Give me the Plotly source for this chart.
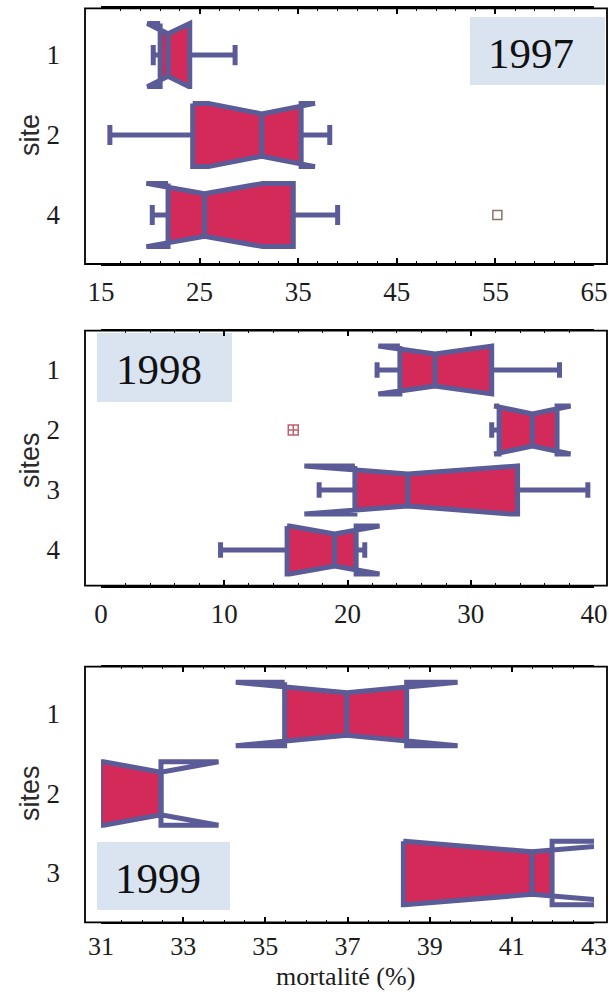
import plotly.graph_objects as go

# ---------------- mortality (%) per site, three campaigns ----------------
sites_1997 = ["1", "2", "4"]
q1_1997 = [21.0, 24.3, 21.8]
med_1997 = [21.8, 31.3, 25.5]
q3_1997 = [24.0, 35.3, 34.5]
low_1997 = [20.3, 15.9, 20.2]
high_1997 = [28.6, 38.2, 39.0]
notch_1997 = [2.1, 5.4, 5.9]
outlier_site_1997 = ["4"]
outlier_val_1997 = [55.2]

sites_1998 = ["1", "2", "3", "4"]
q1_1998 = [24.25, 32.3, 20.6, 15.1]
med_1998 = [27.1, 35.0, 24.9, 18.95]
q3_1998 = [31.7, 37.0, 33.8, 20.7]
low_1998 = [22.4, 31.7, 17.7, 9.7]
high_1998 = [37.2, 37.0, 39.5, 21.4]
notch_1998 = [4.6, 3.1, 8.4, 3.65]
outlier_site_1998 = ["2"]
outlier_val_1998 = [15.6]

sites_1999 = ["1", "2", "3"]
q1_1999 = [35.47, 30.98, 38.36]
med_1999 = [36.98, 32.46, 41.49]
q3_1999 = [38.44, 32.46, 41.98]
low_1999 = [35.47, 30.98, 38.36]
high_1999 = [38.44, 32.46, 41.98]
notch_1999 = [2.7, 1.4, 3.1]

years = ["1997", "1998", "1999"]
ylabels = ["site", "sites", "sites"]
xlabel = "mortalité (%)"

# ---------------- styling ----------------
W, H = 609, 992
ML, MR = 101, 15
PLOT_W = W - ML - MR
RED = "#d42a5a"
BLUE = "#5b5b97"
LABEL_BG = "#dae4f0"
SERIF = "Liberation Serif"
SANS = "Liberation Sans"
NOTCH_W = 0.33      # notch depth at the median, as a fraction of the half box
CAP_W = 0.32        # whisker cap length relative to the box thickness
LINE_W = 5


def px(x):
    return (x - ML) / PLOT_W


def py(y):
    return 1 - y / H


def half_height(v, m, ns, half):
    r = min(1.0, abs(v - m) / ns) if ns > 0 else 1.0
    return half * ((1 - NOTCH_W) + NOTCH_W * r)


def body_polygon(q1, m, q3, ns, pos, w):
    """Filled part of a notched box, limited to the quartile span."""
    half = w / 2.0
    vs = [q1]
    if m - ns > q1:
        vs.append(m - ns)
    vs.append(m)
    if m + ns < q3:
        vs.append(m + ns)
    vs.append(q3)
    xs = vs + vs[::-1] + [vs[0]]
    ys = ([pos - half_height(v, m, ns, half) for v in vs]
          + [pos + half_height(v, m, ns, half) for v in vs[::-1]]
          + [pos - half_height(vs[0], m, ns, half)])
    return xs, ys


def outline_paths(q1, m, q3, ns, lo, hi, pos, w):
    """Notched outline (folding back where the notch passes a quartile),
    median bar and whiskers with caps."""
    half = w / 2.0
    hm = half * (1 - NOTCH_W)
    ln, un = m - ns, m + ns
    xs = [q1, ln, m, un, q3, q3, un, m, ln, q1, q1, None,
          m, m, None]
    ys = [pos - half, pos - half, pos - hm, pos - half, pos - half,
          pos + half, pos + half, pos + hm, pos + half, pos + half, pos - half, None,
          pos - hm, pos + hm, None]
    cap = half * CAP_W
    if lo < q1:
        xs += [q1, lo, None, lo, lo, None]
        ys += [pos, pos, None, pos - cap, pos + cap, None]
    if hi > q3:
        xs += [q3, hi, None, hi, hi, None]
        ys += [pos, pos, None, pos - cap, pos + cap, None]
    return xs, ys


panels = [
    dict(sites=sites_1997, q1=q1_1997, med=med_1997, q3=q3_1997, lo=low_1997,
         hi=high_1997, ns=notch_1997, osite=outlier_site_1997, oval=outlier_val_1997,
         osym="square-open", ocol="#8d726e", osize=9,
         xrange=[15, 65], dtick=10, minor=2, tick0=15, tfont=27, tstand=3,
         ytop=8.3, ybot=264, yrange=[2.6125, -0.584], width=0.79,
         label_box=(470, 17, 605, 85), label_xy=(531, 53)),
    dict(sites=sites_1998, q1=q1_1998, med=med_1998, q3=q3_1998, lo=low_1998,
         hi=high_1998, ns=notch_1998, osite=outlier_site_1998, oval=outlier_val_1998,
         osym="square-cross-open", ocol="#c25d6e", osize=10,
         xrange=[0, 40], dtick=10, minor=2, tick0=0, tfont=27, tstand=3,
         ytop=330.7, ybot=585.7, yrange=[3.595, -0.655], width=0.80,
         label_box=(97, 333, 232, 402), label_xy=(159, 369)),
    dict(sites=sites_1999, q1=q1_1999, med=med_1999, q3=q3_1999, lo=low_1999,
         hi=high_1999, ns=notch_1999, osite=[], oval=[],
         osym="square-open", ocol="#8d726e", osize=9,
         xrange=[31, 43], dtick=2, minor=0.5, tick0=31, tfont=26, tstand=0,
         ytop=666.7, ybot=922.3, yrange=[2.62, -0.595], width=0.80,
         label_box=(97, 842, 230, 910), label_xy=(158, 878)),
]
ylabel_y = [135, 460, 793]

fig = go.Figure()
shapes = []
annotations = []
layout = {}

for i, p in enumerate(panels):
    k = i + 1
    xa = "x" if k == 1 else f"x{k}"
    ya = "y" if k == 1 else f"y{k}"
    pos = list(range(len(p["sites"])))
    idx = {s: j for j, s in enumerate(p["sites"])}

    # red box bodies
    bx, by = [], []
    for j in pos:
        xs, ys = body_polygon(p["q1"][j], p["med"][j], p["q3"][j], p["ns"][j], j, p["width"])
        bx += xs + [None]
        by += ys + [None]
    fig.add_trace(go.Scatter(x=bx, y=by, mode="lines", fill="toself", fillcolor=RED,
                             line=dict(width=0), hoverinfo="skip", xaxis=xa, yaxis=ya))

    # notched outlines, medians and whiskers
    ox, oy = [], []
    for j in pos:
        xs, ys = outline_paths(p["q1"][j], p["med"][j], p["q3"][j], p["ns"][j],
                               p["lo"][j], p["hi"][j], j, p["width"])
        ox += xs
        oy += ys
    fig.add_trace(go.Scatter(x=ox, y=oy, mode="lines",
                             line=dict(color=BLUE, width=LINE_W),
                             hoverinfo="skip", xaxis=xa, yaxis=ya))

    if p["oval"]:
        fig.add_trace(go.Scatter(x=p["oval"], y=[idx[s] for s in p["osite"]], mode="markers",
                                 marker=dict(symbol=p["osym"], size=p["osize"], color=p["ocol"],
                                             line=dict(width=1.5, color=p["ocol"])),
                                 hoverinfo="skip", xaxis=xa, yaxis=ya))

    dom = [py(p["ybot"]), py(p["ytop"])]
    xkey = "xaxis" if k == 1 else f"xaxis{k}"
    ykey = "yaxis" if k == 1 else f"yaxis{k}"
    layout[xkey] = dict(domain=[0, 1], anchor=ya, range=p["xrange"], tick0=p["tick0"],
                        dtick=p["dtick"], ticks="inside", ticklen=6, tickwidth=1.5,
                        tickcolor="black", showline=True, linecolor="black", linewidth=1.5,
                        mirror="allticks", showgrid=False, zeroline=False,
                        minor=dict(dtick=p["minor"], tick0=p["tick0"], ticks="inside",
                                   ticklen=3, tickwidth=1.2, tickcolor="black", showgrid=False),
                        tickfont=dict(family=SERIF, size=p["tfont"], color="#1c1c1c"),
                        ticklabelstandoff=p["tstand"], fixedrange=True)
    layout[ykey] = dict(domain=dom, anchor=xa, range=p["yrange"], tickvals=pos,
                        ticktext=p["sites"], ticks="", showline=False, showgrid=False,
                        zeroline=False, tickfont=dict(family=SERIF, size=27, color="#1c1c1c"),
                        ticklabelstandoff=40, fixedrange=True)

    # plot frame
    shapes.append(dict(type="rect", xref="paper", yref="paper", x0=px(85), x1=px(607),
                       y0=dom[0], y1=dom[1], line=dict(color="black", width=1.8),
                       fillcolor="rgba(0,0,0,0)", layer="above"))
    # year label
    bx0, by0, bx1, by1 = p["label_box"]
    shapes.append(dict(type="rect", xref="paper", yref="paper", x0=px(bx0), x1=px(bx1),
                       y0=py(by1), y1=py(by0), line=dict(width=0), fillcolor=LABEL_BG,
                       layer="below"))
    annotations.append(dict(text=years[i], xref="paper", yref="paper",
                            x=px(p["label_xy"][0]), y=py(p["label_xy"][1]),
                            xanchor="center", yanchor="middle", showarrow=False,
                            font=dict(family=SERIF, size=43, color="#111111")))
    annotations.append(dict(text=ylabels[i], xref="paper", yref="paper",
                            x=px(30), y=py(ylabel_y[i]), textangle=-90,
                            xanchor="center", yanchor="middle", showarrow=False,
                            font=dict(family=SANS, size=27, color="#2a2a2a")))

annotations.append(dict(text=xlabel, xref="paper", yref="paper", x=px(345), y=py(976),
                        xanchor="center", yanchor="middle", showarrow=False,
                        font=dict(family=SERIF, size=26, color="#1c1c1c")))

fig.update_layout(width=W, height=H, margin=dict(l=ML, r=MR, t=0, b=0),
                  paper_bgcolor="white", plot_bgcolor="white", showlegend=False,
                  shapes=shapes, annotations=annotations, **layout)

fig.write_html("out.html")
